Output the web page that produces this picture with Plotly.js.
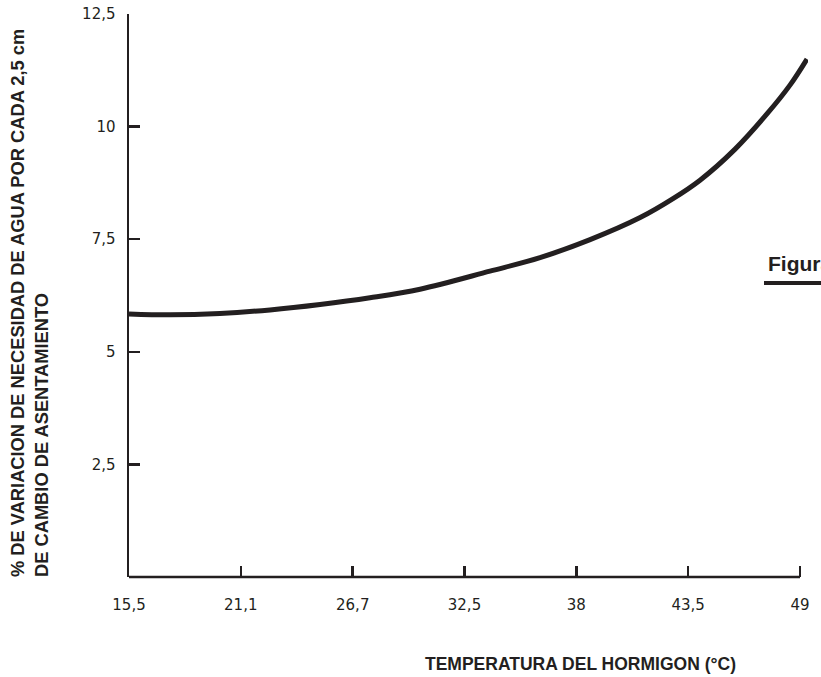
<!DOCTYPE html>
<html>
<head>
<meta charset="utf-8">
<script src="https://cdn.plot.ly/plotly-3.0.1.min.js"></script>
<style>
  html, body { margin: 0; padding: 0; background: #ffffff; overflow: hidden; }
  #chart { width: 821px; height: 677px; }
</style>
</head>
<body>
<div id="chart"></div>
<script>
// Curve: concrete temperature (°C) vs % change in water demand
const temperature = [15.5, 17.55, 20.04, 22.54, 25.04, 27.53, 30.03, 33.52, 36.02, 38.52, 41.02, 42.66, 44.01, 45.76, 47.35, 48.5, 49.35];
const waterChange = [5.84, 5.82, 5.85, 5.93, 6.05, 6.20, 6.39, 6.79, 7.09, 7.49, 7.98, 8.40, 8.81, 9.50, 10.28, 10.92, 11.50];

// Axis ticks (positions as drawn, labels as printed)
const xTickVals = [15.5, 21.08, 26.67, 32.25, 37.83, 43.42, 49];
const xTickText = ["15,5", "21,1", "26,7", "32,5", "38", "43,5", "49"];
const yTickVals = [2.5, 5, 7.5, 10, 12.5];
const yTickText = ["2,5", "5", "7,5", "10", "12,5"];

const xTitle = "TEMPERATURA DEL HORMIGON (°C)";
const yTitle = "% DE VARIACION DE NECESIDAD DE AGUA POR CADA 2,5 cm<br>DE CAMBIO DE ASENTAMIENTO";
const figLabel = "Figura";

const ink = "#231f20";

const trace = {
  x: temperature,
  y: waterChange,
  type: "scatter",
  mode: "lines",
  line: { color: ink, width: 5, shape: "spline", smoothing: 1 },
  hoverinfo: "skip"
};

const W = 821, H = 677;
const L = 129, R = 13, T = 14, B = 100;
const pw = W - L - R, ph = H - T - B;
const px = v => (v - L) / pw;
const py = v => (H - B - v) / ph;

const tickFont = { family: "DejaVu Sans, sans-serif", size: 15, color: ink };
const titleFont = { family: "Liberation Sans, Arial, sans-serif", size: 18.3, color: ink, weight: "bold" };

const layout = {
  width: W, height: H,
  margin: { l: L, r: R, t: T, b: B, pad: 0 },
  paper_bgcolor: "#ffffff",
  plot_bgcolor: "#ffffff",
  showlegend: false,
  font: { family: "DejaVu Sans, sans-serif", color: ink, size: 15 },
  xaxis: {
    range: [15.5, 49.4],
    tickmode: "array", tickvals: xTickVals, ticktext: xTickText,
    ticks: "inside", ticklen: 11, tickwidth: 2.5, tickcolor: ink,
    showline: false,
    showgrid: false, zeroline: false,
    tickfont: tickFont,
    ticklabelstandoff: 17,
    fixedrange: true
  },
  yaxis: {
    range: [0, 12.5],
    tickmode: "array", tickvals: yTickVals, ticktext: yTickText,
    ticks: "inside", ticklen: 11, tickwidth: 2.5, tickcolor: ink,
    showline: true, linecolor: ink, linewidth: 2.5,
    showgrid: false, zeroline: false,
    tickfont: tickFont,
    ticklabelstandoff: 8,
    fixedrange: true
  },
  annotations: [
    {
      text: xTitle, xref: "paper", yref: "paper",
      x: px(580), y: py(664), xanchor: "center", yanchor: "middle",
      showarrow: false,
      font: { family: "Liberation Sans, Arial, sans-serif", size: 17.5, color: ink, weight: "bold" }
    },
    {
      text: yTitle, xref: "paper", yref: "paper",
      x: px(29), y: py(579), xanchor: "center", yanchor: "bottom",
      textangle: -90, align: "left", showarrow: false,
      font: titleFont
    },
    {
      text: figLabel, xref: "paper", yref: "paper",
      x: px(766), y: py(263), xanchor: "left", yanchor: "middle",
      showarrow: false,
      font: { family: "Liberation Sans, Arial, sans-serif", size: 21, color: ink, weight: "bold" }
    }
  ],
  shapes: [
    {
      type: "line", xref: "x", yref: "paper",
      x0: 15.5, x1: 49, y0: 0, y1: 0,
      line: { color: ink, width: 2.5 }
    },
    {
      type: "line", xref: "paper", yref: "paper",
      x0: px(764), x1: px(840), y0: py(283), y1: py(283),
      line: { color: ink, width: 4 }
    }
  ]
};

Plotly.newPlot("chart", [trace], layout, { displayModeBar: false, staticPlot: true });
</script>
</body>
</html>
